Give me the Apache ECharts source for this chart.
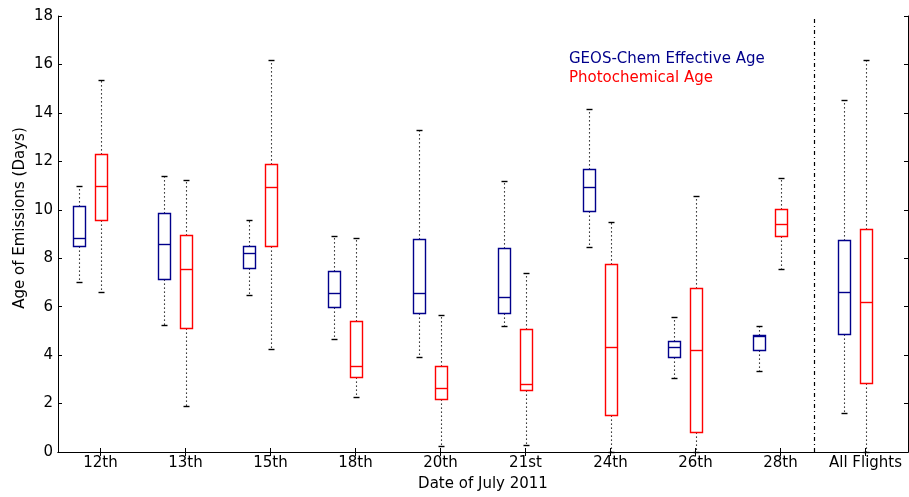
<!DOCTYPE html>
<html>
<head>
<meta charset="utf-8">
<script src="https://cdn.jsdelivr.net/npm/echarts@6/dist/echarts.min.js"></script>
<style>
html,body{margin:0;padding:0;background:#fff;overflow:hidden;}
#chart{width:909px;height:497px;}
</style>
</head>
<body>
<div id="chart"></div>
<script>
// ---- data ----
const categories = ['12th','13th','15th','18th','20th','21st','24th','26th','28th','All Flights'];

// GEOS-Chem Effective Age
const geosLow  = [7.0, 5.25, 6.5, 4.65, 3.93, 5.21, 8.48, 3.07, 3.35, 1.6];
const geosQ1   = [8.5, 7.16, 7.61, 5.97, 5.74, 5.74, 9.95, 3.93, 4.2, 4.88];
const geosMed  = [8.85, 8.58, 8.22, 6.55, 6.57, 6.4, 10.95, 4.34, 4.78, 6.61];
const geosQ3   = [10.16, 9.87, 8.52, 7.46, 8.81, 8.41, 11.69, 4.6, 4.81, 8.75];
const geosHigh = [11.0, 11.39, 9.56, 8.92, 13.28, 11.18, 14.18, 5.56, 5.2, 14.54];

// Photochemical Age
const photoLow  = [6.61, 1.91, 4.24, 2.26, 0.23, 0.3, 0.0, 0.0, 7.57, 0.0];
const photoQ1   = [9.57, 5.13, 8.52, 3.08, 2.17, 2.55, 1.51, 0.82, 8.93, 2.84];
const photoMed  = [10.99, 7.54, 10.95, 3.55, 2.63, 2.8, 4.32, 4.21, 9.42, 6.19];
const photoQ3   = [12.29, 8.97, 11.89, 5.41, 3.57, 5.09, 7.75, 6.78, 10.04, 9.19];
const photoHigh = [15.37, 11.25, 16.17, 8.82, 5.66, 7.38, 9.48, 10.57, 11.3, 16.17];

const yTicks = [0, 2, 4, 6, 8, 10, 12, 14, 16, 18];
const separatorX = 8.9; // position of dash-dot separator in category-band units

const seriesNames = ['GEOS-Chem Effective Age', 'Photochemical Age'];
const colors = ['#00008B', '#FF0000'];

function buildRows(lo, q1, med, q3, hi) {
  return categories.map((c, i) => [i, lo[i], q1[i], med[i], q3[i], hi[i]]);
}

function makeRender(offsetFrac, color) {
  return function (params, api) {
    const idx = api.value(0);
    const band = api.size([1, 0])[0];
    const cx = Math.round(api.coord([idx, 0])[0] + offsetFrac * band) + 0.5;
    const yy = k => Math.round(api.coord([idx, api.value(k)])[1]) + 0.5;
    const yLo = yy(1), yQ1 = yy(2), yMed = yy(3), yQ3 = yy(4), yHi = yy(5);
    const half = Math.round(band * 0.065);
    const capHalf = 3;
    const dotted = {stroke: '#000', lineWidth: 1.1, lineDash: [1.2, 2.8]};
    const solidK = {stroke: '#000', lineWidth: 1.4};
    const boxS = {stroke: color, lineWidth: 1.4, fill: null};
    return {
      type: 'group',
      children: [
        {type: 'line', shape: {x1: cx, y1: yQ3, x2: cx, y2: yHi}, style: dotted},
        {type: 'line', shape: {x1: cx, y1: yQ1, x2: cx, y2: yLo}, style: dotted},
        {type: 'line', shape: {x1: cx - capHalf, y1: yHi, x2: cx + capHalf, y2: yHi}, style: solidK},
        {type: 'line', shape: {x1: cx - capHalf, y1: yLo, x2: cx + capHalf, y2: yLo}, style: solidK},
        {type: 'rect', shape: {x: cx - half, y: yQ3, width: 2 * half, height: yQ1 - yQ3}, style: boxS},
        {type: 'line', shape: {x1: cx - half, y1: yMed, x2: cx + half, y2: yMed}, style: {stroke: color, lineWidth: 1.4}}
      ]
    };
  };
}

const FONT = 'DejaVu Sans';
const chart = echarts.init(document.getElementById('chart'), null, {renderer: 'canvas'});

const axisLineK = {show: true, lineStyle: {color: '#000', width: 1}};
const tickIn = {show: true, inside: true, length: 4, lineStyle: {color: '#000', width: 1}};

chart.setOption({
  backgroundColor: '#fff',
  animation: false,
  grid: {left: 58, right: 1, top: 16, bottom: 41, containLabel: false},
  xAxis: [
    {
      type: 'category', data: categories, position: 'bottom', boundaryGap: true,
      axisLine: axisLineK,
      axisTick: Object.assign({alignWithLabel: true}, tickIn),
      axisLabel: {fontFamily: FONT, fontSize: 15, color: '#000', margin: 4, interval: 0},
      splitLine: {show: false},
      name: 'Date of July 2011', nameLocation: 'middle', nameGap: 25,
      nameTextStyle: {fontFamily: FONT, fontSize: 15, color: '#000'}
    },
    {
      type: 'category', data: categories, position: 'top', boundaryGap: true,
      axisLine: axisLineK,
      axisTick: Object.assign({alignWithLabel: true}, tickIn),
      axisLabel: {show: false}, splitLine: {show: false}
    },
    {
      type: 'value', min: 0, max: categories.length, show: false,
      splitLine: {show: false}
    }
  ],
  yAxis: [
    {
      type: 'value', min: yTicks[0], max: yTicks[yTicks.length - 1], interval: 2, position: 'left',
      axisLine: axisLineK, axisTick: tickIn,
      axisLabel: {fontFamily: FONT, fontSize: 15, color: '#000', margin: 5},
      splitLine: {show: false}
    },
    {
      type: 'value', min: yTicks[0], max: yTicks[yTicks.length - 1], interval: 2, position: 'right',
      axisLine: axisLineK, axisTick: tickIn,
      axisLabel: {show: false}, splitLine: {show: false}
    }
  ],
  series: [
    {
      type: 'line', xAxisIndex: 2, yAxisIndex: 0, symbol: 'none', silent: true,
      data: [[separatorX, yTicks[0]], [separatorX, yTicks[yTicks.length - 1]]],
      lineStyle: {color: '#000', width: 1.2, type: [4, 3, 1, 3]}, z: 1
    },
    {
      name: seriesNames[0], type: 'custom', xAxisIndex: 0, yAxisIndex: 0,
      renderItem: makeRender(-0.25, colors[0]),
      data: buildRows(geosLow, geosQ1, geosMed, geosQ3, geosHigh), z: 3
    },
    {
      name: seriesNames[1], type: 'custom', xAxisIndex: 0, yAxisIndex: 0,
      renderItem: makeRender(0, colors[1]),
      data: buildRows(photoLow, photoQ1, photoMed, photoQ3, photoHigh), z: 3
    }
  ],
  graphic: [
    {type: 'text', left: 569, top: 52, style: {text: seriesNames[0], fill: colors[0], font: '15px "DejaVu Sans"'}},
    {type: 'text', left: 569, top: 71, style: {text: seriesNames[1], fill: colors[1], font: '15px "DejaVu Sans"'}},
    {type: 'text', x: 13, y: 218, rotation: Math.PI / 2,
     style: {text: 'Age of Emissions (Days)', fill: '#000', font: '15px "DejaVu Sans"', textAlign: 'center', textVerticalAlign: 'top'}}
  ]
});
</script>
</body>
</html>
